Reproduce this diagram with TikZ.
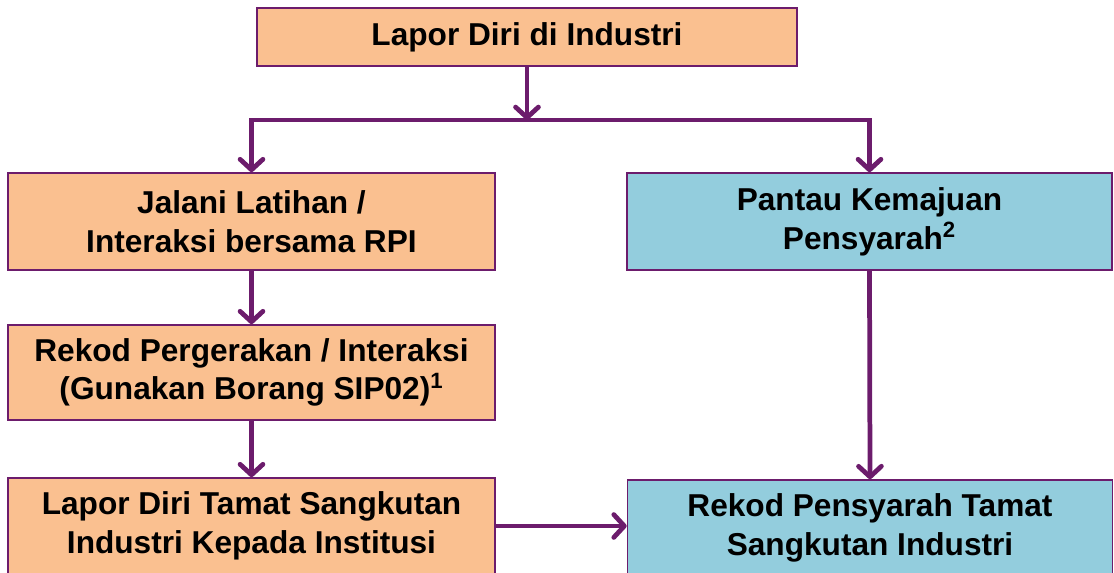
\documentclass[tikz,border=0pt]{standalone}
\usepackage{fontspec}
\setmainfont{Liberation Sans}
\usetikzlibrary{arrows.meta}

\definecolor{boxorange}{RGB}{250,192,144}
\definecolor{boxblue}{RGB}{147,205,221}
\definecolor{flowpurple}{RGB}{108,28,108}

\tikzset{
  box/.style={draw=flowpurple, line width=0.9pt, inner sep=0pt, align=center,
    font=\bfseries\fontsize{18}{22}\selectfont},
  orangebox/.style={box, fill=boxorange},
  bluebox/.style={box, fill=boxblue},
  flow/.style={draw=flowpurple, line width=2.7pt,
    -{Straight Barb[length=6pt,width=13pt,round]}},
}

\begin{document}
\begin{tikzpicture}[scale=1.0]
\path[use as bounding box, clip] (0,0) rectangle (22.28,11.46);

% Top box
\node[orangebox, minimum width=10.8cm, minimum height=1.16cm] (lapor) at (10.54,10.72) {\raisebox{-2pt}{Lapor Diri di Industri}};

% Left column
\node[orangebox, minimum width=9.74cm, minimum height=1.94cm] (jalani) at (5.03,7.03) {Jalani Latihan /\\Interaksi bersama RPI};
\node[orangebox, minimum width=9.74cm, minimum height=1.9cm] (rekodgerak) at (5.03,4.01) {Rekod Pergerakan / Interaksi\\(Gunakan Borang SIP02)\textsuperscript{1}};
\node[orangebox, minimum width=9.74cm, minimum height=1.92cm] (tamat) at (5.03,0.94) {Lapor Diri Tamat Sangkutan\\Industri Kepada Institusi};

% Right column
\node[bluebox, minimum width=9.7cm, minimum height=1.94cm] (pantau) at (17.39,7.03) {Pantau Kemajuan\\Pensyarah\textsuperscript{2}};
\node[bluebox, minimum width=9.7cm, minimum height=1.92cm] (rekodpen) at (17.4,0.9) {Rekod Pensyarah Tamat\\Sangkutan Industri};

% Arrows
\coordinate (split) at (10.54,9.06);
\draw[flow] (lapor.south) -- (split);
\draw[flow, {Straight Barb[length=6pt,width=13pt,round]}-{Straight Barb[length=6pt,width=13pt,round]}]
  (jalani.north) |- (split) -| (pantau.north);
\draw[flow] (jalani.south) -- (rekodgerak.north);
\draw[flow] (rekodgerak.south) -- (tamat.north);
\draw[flow] (pantau.south) -- (rekodpen.north);
\draw[flow] (tamat.east) -- (tamat.east -| rekodpen.west);

\end{tikzpicture}
\end{document}
